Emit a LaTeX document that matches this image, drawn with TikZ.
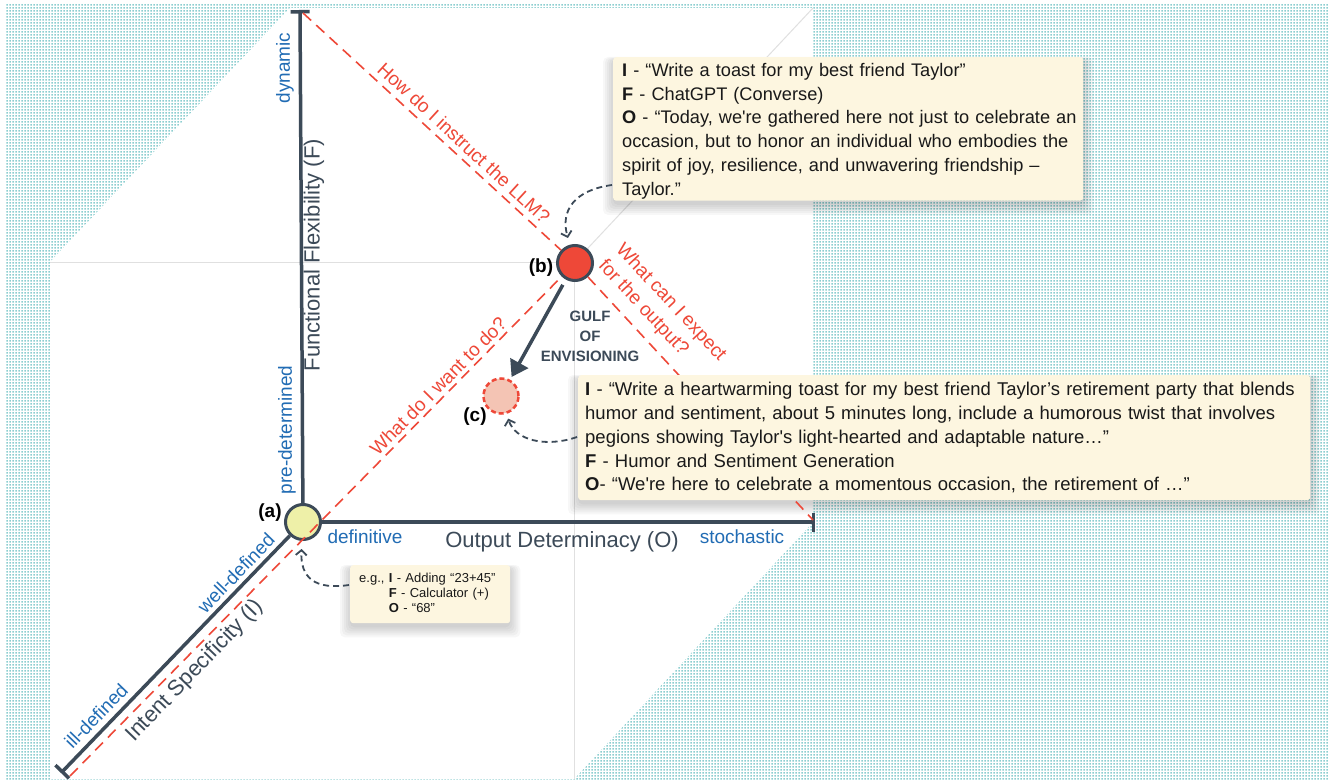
\documentclass[tikz,border=0pt]{standalone}
\usepackage{fontspec}
\setmainfont{Liberation Sans}[Ligatures=TeXOff]
\usetikzlibrary{arrows.meta,patterns}
\pgfdeclarelayer{back}
\pgfdeclarelayer{shade}
\pgfsetlayers{back,shade,main}
\pgfdeclarepatternformonly{tealdots}{\pgfqpoint{0pt}{0pt}}{\pgfqpoint{3pt}{3pt}}{\pgfqpoint{3pt}{3pt}}{%
  \pgfpathrectangle{\pgfqpoint{0.4pt}{0.4pt}}{\pgfqpoint{2pt}{2pt}}\pgfusepath{fill}}
\definecolor{slate}{RGB}{60,74,88}
\definecolor{llmred}{RGB}{238,72,56}
\definecolor{axblue}{RGB}{33,108,180}
\definecolor{cream}{RGB}{253,246,224}
\definecolor{dotteal}{RGB}{140,206,208}
\definecolor{paleyel}{RGB}{238,240,168}
\definecolor{salmon}{RGB}{244,196,180}
\definecolor{hidgray}{RGB}{224,224,224}
\definecolor{ink}{RGB}{25,25,25}
\newcommand{\setfs}[2]{\fontsize{#1}{#2}\selectfont}
\begin{document}
\begin{tikzpicture}[x=1pt,y=-1pt,
  axis/.style={draw=slate,line width=3.5pt},
  reddash/.style={draw=llmred,line width=1.6pt,dash pattern=on 11pt off 7pt},
  redtext/.style={text=llmred,font=\setfs{19}{23.8},inner sep=0pt},
  bluetext/.style={text=axblue,font=\setfs{19}{22},inner sep=0pt},
  titletext/.style={text=slate,font=\setfs{22}{26},inner sep=0pt},
  ptlabel/.style={text=black,font=\setfs{19}{22}\bfseries,inner sep=0pt},
  dotnode/.style={circle,minimum size=35pt,inner sep=0pt,line width=3pt},
  callout/.style={fill=cream,rounded corners=3pt,align=left,text=ink,inner ysep=0pt},
  curvy/.style={draw=slate,line width=1.8pt,dash pattern=on 6pt off 4pt,-{Straight Barb[length=5pt,width=11pt]}},
  hiddenline/.style={draw=hidgray,line width=1pt}]
\useasboundingbox (0,0) rectangle (1329,783);
\begin{pgfonlayer}{back}
\fill[white] (0,0) rectangle (1329,783);
\fill[pattern=tealdots,pattern color=dotteal] (5,5) rectangle (1329,779);
\fill[white] (290,8) -- (813,8) -- (813,522) -- (574,779) -- (50,779) -- (50,262) -- cycle;
\draw[hiddenline] (50,263) -- (574,263) -- (574,779);
\draw[hiddenline] (574,263) -- (813,8);
\end{pgfonlayer}

% points
\node[dotnode,draw=slate,fill=paleyel] (a) at (303,522) {};
\node[dotnode,draw=slate,fill=llmred] (b) at (575,263) {};
\node[dotnode,draw=llmred,fill=salmon,line width=2.5pt,dash pattern=on 5pt off 3pt] (c) at (501,396) {};

\coordinate (Fend) at (300,10);
\coordinate (Oend) at (815,522);
\coordinate (Iend) at (61,773);
\coordinate (Rf) at (303,13);
\coordinate (Ro) at (813,520);
\coordinate (Ri) at (70,776);

% axes
\draw[axis,-{Bar[width=19pt]}] (a) -- (Fend);
\draw[axis,-{Bar[width=19pt]}] (a) -- (Oend);
\draw[axis,-{Bar[width=19pt]}] (a) -- (Iend);

% red dashed guides
\draw[reddash] (Rf) -- (b) -- (Ro);
\draw[reddash] (Ri) -- (b);

\node[redtext,rotate=-42.6] (q1) at (464,143) {How do I instruct the LLM?};
\node[redtext,rotate=-47,align=left] (q2) at (662,311) {What can I expect\\for the output?};
\node[redtext,rotate=45.3] (q3) at (438,386) {What do I want to do?};

% axis labels
\node[bluetext,rotate=90] (dyn) at (285,68) {dynamic};
\node[bluetext,rotate=90] (pre) at (287,430) {pre-determined};
\node[bluetext] (def) at (365,537) {definitive};
\node[bluetext] (sto) at (742,537) {stochastic};
\node[bluetext,rotate=46] (wdef) at (236,573) {well-defined};
\node[bluetext,rotate=46] (idef) at (96,716) {ill-defined};

\node[titletext,rotate=90] (tF) at (314,255) {Functional Flexibility (F)};
\node[titletext] (tO) at (562,542) {Output Determinacy (O)};
\node[titletext,rotate=46] (tI) at (195,671) {Intent Specificity (I)};

\node[ptlabel] (la) at (270,513) {(a)};
\node[ptlabel] (lb) at (541,268) {(b)};
\node[ptlabel] (lc) at (475,417) {(c)};

% gulf arrow
\draw[slate,line width=3.5pt,-{Triangle[length=16pt,width=20pt]},shorten <=6pt,shorten >=3pt] (b) -- (c);
\node[text=slate,font=\setfs{15}{20}\bfseries,align=center,inner sep=0pt] (gulf) at (590,336) {GULF\\OF\\ENVISIONING};

% callouts
\node[callout,anchor=north west,inner xsep=3pt,text width=464pt,minimum height=143pt,font=\setfs{18.2}{23.9}] (box1) at (613,57)
{\leftskip=6pt\rule{0pt}{19pt}\textbf{I} - “Write a toast for my best friend Taylor”\\
\textbf{F} - ChatGPT (Converse)\\
\textbf{O} - “Today, we're gathered here not just to celebrate an\\
occasion, but to honor an individual who embodies the\\
spirit of joy, resilience, and unwavering friendship –\\
Taylor.”\rule[-5pt]{0pt}{5pt}\par};

\node[callout,anchor=north west,inner xsep=7pt,text width=718pt,minimum height=125pt,font=\setfs{18.5}{23.8}] (box2) at (578,375)
{\textbf{I} - “Write a heartwarming toast for my best friend Taylor’s retirement party that blends\\
humor and sentiment, about 5 minutes long, include a humorous twist that involves\\
pegions showing Taylor's light-hearted and adaptable nature…”\\
\textbf{F} - Humor and Sentiment Generation\\
\textbf{O}- “We're here to celebrate a momentous occasion, the retirement of …”};

\node[callout,anchor=north west,inner xsep=9pt,text width=142pt,minimum height=58pt,font=\setfs{13}{15}] (box3) at (350,565)
{e.g., \textbf{I} - Adding “23+45”\\
\phantom{e.g., }\textbf{F} - Calculator (+)\\
\phantom{e.g., }\textbf{O} - “68”};

% connectors from callouts
\coordinate (k1) at (612,185);
\coordinate (k2) at (577,437);
\coordinate (k3) at (349,585);
\draw[curvy,shorten >=7pt] (k1) .. controls (575,190) and (560,210) .. (b);
\draw[curvy,shorten >=5pt] (k2) .. controls (545,448) and (515,440) .. (c);
\draw[curvy,shorten >=8pt] (k3) .. controls (315,590) and (300,578) .. (a);

\begin{pgfonlayer}{shade}
\foreach \n in {box1,box2,box3}{
  \foreach \s in {0,2,...,10}{
    \fill[black,opacity=0.03,rounded corners=5pt] ([shift={(-\s,3-0.3*\s)}]\n.north west) rectangle ([shift={(\s,4+\s)}]\n.south east);
  }
}
\end{pgfonlayer}
\end{tikzpicture}
\end{document}
